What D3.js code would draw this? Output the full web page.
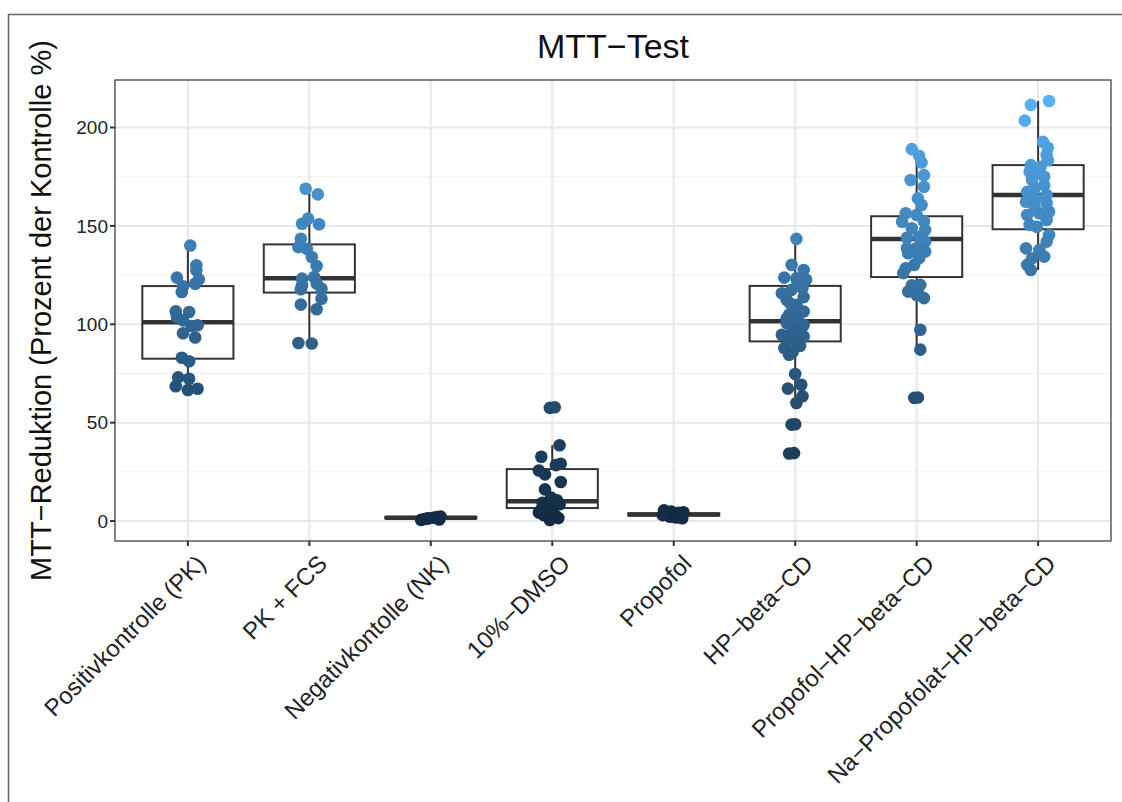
<!DOCTYPE html>
<html>
<head>
<meta charset="utf-8">
<script src="https://cdn.jsdelivr.net/npm/d3@7"></script>
<style>
  body { margin: 0; background: #fff; }
  svg { display: block; font-family: "Liberation Sans", Arial, sans-serif; }
</style>
</head>
<body>
<div id="chart"></div>
<script>
// groups on the x axis
const categories = ["Positivkontrolle (PK)", "PK + FCS", "Negativkontolle (NK)", "10%\u2212DMSO",
  "Propofol", "HP\u2212beta\u2212CD", "Propofol\u2212HP\u2212beta\u2212CD", "Na\u2212Propofolat\u2212HP\u2212beta\u2212CD"];

const pkValues = [140, 130, 127.4, 123.7, 122.8, 120.6, 119.3, 116.4, 106.6, 106.2, 103.7, 102, 99.5, 99.1, 95.4, 93.3, 83, 81.2, 73, 72.3, 68.5, 66.6, 67.2];
const pkFcsValues = [168.9, 166, 153.7, 151.1, 150.8, 143.5, 139.2, 138.4, 134.2, 129.6, 124, 123.2, 120.7, 119.8, 118.1, 117.8, 113, 110, 107.6, 90.5, 90.2];
const nkValues = [0.6, 1.0, 1.4, 1.7, 2.0, 2.3, 1.2, 0.8];
const dmsoValues = [57.5, 57.8, 38.5, 32.7, 29.1, 28.4, 25.7, 23.7, 19.8, 16.1, 11.9, 10.5, 9.3, 8.5, 7.6, 5.9, 5.1, 4.3, 3.0, 2.5, 0.5, 1.5];
const propofolValues = [5.5, 4.8, 4.2, 3.8, 3.4, 3.1, 2.7, 2.2, 1.8, 1.4, 4.5, 3.0];
const hpValues = [143.4, 130.2, 127.6, 123.7, 123.4, 122.6, 120.5, 118.4, 117.5, 115.8, 113.8, 112.4, 110.5, 109.9, 107.8, 106.5, 104.8, 103, 102.3, 100.6,
  99.7, 98.9, 97.2, 96, 94.7, 94.2, 93.8, 92.1, 90.5, 89, 87.9, 86, 84.5, 74.7, 69.3, 67.3, 63.4, 60, 49, 49.2, 34.3, 34.5];
const propHpValues = [189, 185.6, 182.2, 175.8, 173.3, 169.9, 164, 160.6, 156.4, 155.5, 152.1, 152.3, 148.8, 147.9, 144, 144.5, 142, 138.6, 138.8, 136.9,
  136.1, 133.6, 130.2, 128.5, 126, 120, 119.8, 116.6, 115.8, 114.9, 113.3, 97.2, 87.1, 62.6, 62.8];
const naPropValues = [213.5, 211.5, 203.5, 192.7, 189.7, 186, 183.4, 180.9, 180, 177.5, 176.7, 175, 173.3, 170.7, 169.1, 167.3, 165.7, 164, 162.3, 161.5,
  159.7, 157.2, 156.4, 155.5, 153, 150.5, 149.6, 145.4, 142, 138.6, 137.8, 134.4, 133.5, 130.2, 127.6];

// horizontal jitter of each point, in percent of the category width
const pkJitter = [2, 7, 7, -9, 9, 6, -4, -5, -10, 1, -9, -4, 8, 3, -4, 6, -5, 1, -8, 1, -10, 0, 8];
const pkFcsJitter = [-3, 7, -1, -6, 8, -7, -9, -2, 2, 6, 4, -6, 6, -6, 10, -7, 10, -7, 6, -9, 2];
const nkJitter = [-8, -5, -2, 2, 5, 8, -3, 7];
const dmsoJitter = [-2, 2, 6, -9, 7, 3, -11, -6, 7, -6, -1, 4, -8, 6, -2, -9, 0, -11, -7, 3, -2, 5];
const propofolJitter = [-8, -2, 4, 7, -6, 1, 6, -3, 2, 7, 8, -9];
const hpJitter = [1, -3, 7, -9, 1, 9, 2, 6, -3, -11, 7, -7, -4, 1, 2, 7, -5, -7, 2, -7,
  7, 6, -2, 2, -11, -5, 7, -5, 2, 4, -9, -2, -5, 0, 5, -6, 6, 1, -3, 0, -5, -1];
const propHpJitter = [-4, 2, 4, 6, -5, 6, 1, 4, -9, 0, -12, 6, -4, 7, -8, 2, 7, -8, 0, 7,
  -7, 2, -2, -9, -11, 3, -4, -7, 1, 0, 6, 3, 3, -2, 1];
const naPropJitter = [9, -6, -11, 4, 8, 7, 8, -6, 2, -7, 1, 5, -5, 5, -3, -9, 7, -2, -10, 7,
  -3, 9, 1, -9, 7, -7, -1, 9, 7, -10, 1, 5, -5, -9, -6];

// box plot statistics per group: lower whisker, Q1, median, Q3, upper whisker
const boxLow = [66.6, 90.2, 0.6, 0.5, 1.4, 60, 87.1, 127.6];
const boxQ1 = [82.5, 116.1, 1.3, 6.6, 2.8, 91.3, 124, 148.3];
const boxMedian = [101, 123.4, 1.7, 10, 3.3, 101.5, 143.4, 165.7];
const boxQ3 = [119.4, 140.6, 2.1, 26.4, 3.9, 119.5, 154.9, 180.9];
const boxHigh = [140, 168.9, 2.7, 38.5, 5.5, 143.4, 189, 213.5];

const yTicks = [0, 50, 100, 150, 200];
const yMinorTicks = [25, 75, 125, 175];

const groupValues = [pkValues, pkFcsValues, nkValues, dmsoValues, propofolValues, hpValues, propHpValues, naPropValues];
const groupJitter = [pkJitter, pkFcsJitter, nkJitter, dmsoJitter, propofolJitter, hpJitter, propHpJitter, naPropJitter];

const W = 1122, H = 802;
const margin = { top: 80, right: 11, bottom: 261, left: 115 };
const pw = W - margin.left - margin.right;
const ph = H - margin.top - margin.bottom;

const svg = d3.select("#chart").append("svg").attr("width", W).attr("height", H);

// outer frame
svg.append("rect").attr("x", 8.5).attr("y", 14.5).attr("width", 1300).attr("height", 1000)
  .attr("fill", "none").attr("stroke", "#666").attr("stroke-width", 1.5);

const g = svg.append("g").attr("transform", `translate(${margin.left},${margin.top})`);

const allValues = groupValues.flat();
const yMin = d3.min(allValues), yMax = d3.max(allValues);
const pad = (yMax - yMin) * 0.05;
const y = d3.scaleLinear().domain([yMin - pad, yMax + pad]).range([ph, 0]);

// ggplot-like discrete axis: 0.6 category widths of expansion on each side
const step = pw / (categories.length - 1 + 1.2);
const cx = i => step * (0.6 + i);

const color = d3.scaleLinear().domain([yMin, yMax]).range(["#132B43", "#56B1F7"]).interpolate(d3.interpolateLab);

// grid
g.selectAll(".minor").data(yMinorTicks).join("line")
  .attr("x1", 0).attr("x2", pw).attr("y1", d => y(d)).attr("y2", d => y(d))
  .attr("stroke", "#f0f0f0").attr("stroke-width", 1);
g.selectAll(".major").data(yTicks).join("line")
  .attr("x1", 0).attr("x2", pw).attr("y1", d => y(d)).attr("y2", d => y(d))
  .attr("stroke", "#e8e8e8").attr("stroke-width", 2);
g.selectAll(".vgrid").data(categories).join("line")
  .attr("x1", (d, i) => cx(i)).attr("x2", (d, i) => cx(i)).attr("y1", 0).attr("y2", ph)
  .attr("stroke", "#e8e8e8").attr("stroke-width", 2);

// boxes
const boxW = step * 0.75;
const boxes = g.selectAll(".box").data(categories).join("g");
boxes.append("line")
  .attr("x1", (d, i) => cx(i)).attr("x2", (d, i) => cx(i))
  .attr("y1", (d, i) => y(boxHigh[i])).attr("y2", (d, i) => y(boxLow[i]))
  .attr("stroke", "#333").attr("stroke-width", 2);
boxes.append("rect")
  .attr("x", (d, i) => cx(i) - boxW / 2).attr("width", boxW)
  .attr("y", (d, i) => y(boxQ3[i])).attr("height", (d, i) => y(boxQ1[i]) - y(boxQ3[i]))
  .attr("fill", "#fff").attr("stroke", "#333").attr("stroke-width", 2);
boxes.append("line")
  .attr("x1", (d, i) => cx(i) - boxW / 2).attr("x2", (d, i) => cx(i) + boxW / 2)
  .attr("y1", (d, i) => y(boxMedian[i])).attr("y2", (d, i) => y(boxMedian[i]))
  .attr("stroke", "#333").attr("stroke-width", 4.5);

// jittered points
const points = [];
groupValues.forEach((vals, i) => vals.forEach((v, j) => points.push({ i, v, jit: groupJitter[i][j] })));
g.selectAll(".pt").data(points).join("circle")
  .attr("cx", d => cx(d.i) + d.jit / 100 * step)
  .attr("cy", d => y(d.v))
  .attr("r", 6.3)
  .attr("fill", d => color(d.v));

// panel border
g.append("rect").attr("width", pw).attr("height", ph)
  .attr("fill", "none").attr("stroke", "#333").attr("stroke-width", 1.2);

// y axis
const yAxis = g.append("g");
yAxis.selectAll("line").data(yTicks).join("line")
  .attr("x1", -5).attr("x2", 0).attr("y1", d => y(d)).attr("y2", d => y(d))
  .attr("stroke", "#333").attr("stroke-width", 2);
yAxis.selectAll("text").data(yTicks).join("text")
  .attr("x", -7).attr("y", d => y(d)).attr("dy", "0.35em")
  .attr("text-anchor", "end").attr("font-size", 19).attr("fill", "#222")
  .text(d => d);

// x axis
const xAxis = g.append("g").attr("transform", `translate(0,${ph})`);
xAxis.selectAll("line").data(categories).join("line")
  .attr("x1", (d, i) => cx(i)).attr("x2", (d, i) => cx(i)).attr("y1", 0).attr("y2", 5)
  .attr("stroke", "#333").attr("stroke-width", 2);
xAxis.selectAll("text").data(categories).join("text")
  .attr("transform", (d, i) => `translate(${cx(i) + 7},${12}) rotate(-45)`)
  .attr("text-anchor", "end").attr("dy", "0.72em").attr("font-size", 24).attr("fill", "#222")
  .text(d => d);

// titles
svg.append("text").attr("x", margin.left + pw / 2).attr("y", 58)
  .attr("text-anchor", "middle").attr("font-size", 34).attr("fill", "#111")
  .text("MTT\u2212Test");
svg.append("text")
  .attr("transform", `translate(51,${margin.top + ph / 2}) rotate(-90)`)
  .attr("text-anchor", "middle").attr("font-size", 29).attr("fill", "#111")
  .text("MTT\u2212Reduktion (Prozent der Kontrolle %)");
</script>
</body>
</html>
